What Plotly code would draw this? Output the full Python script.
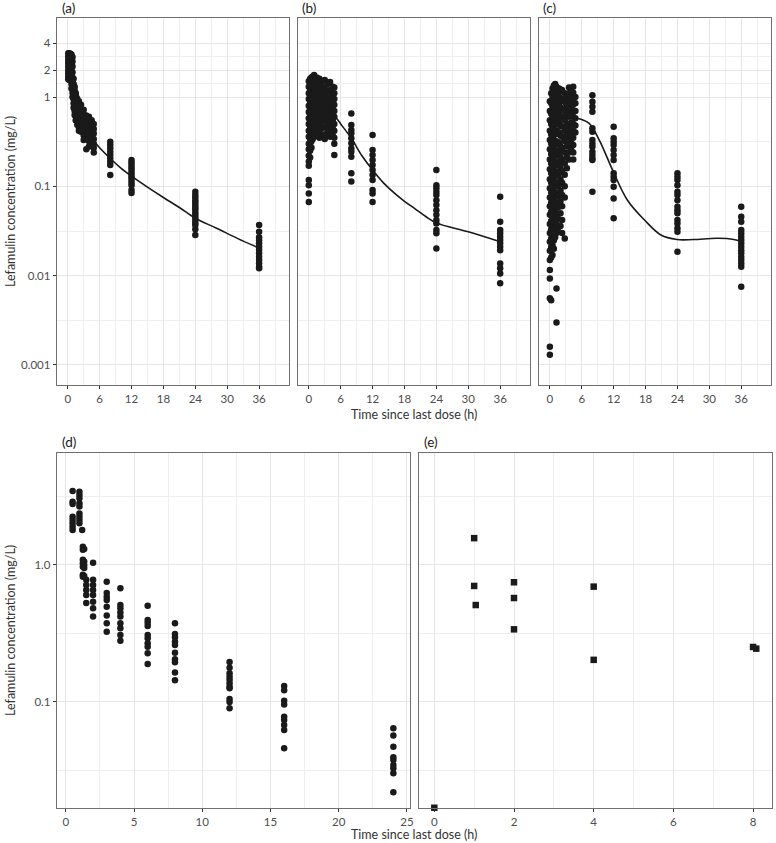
import plotly.graph_objects as go

# ---------------- data ----------------
# Panel (a)
a_times = [0.1, 0.3, 0.5, 0.7, 0.9, 1.1, 1.3, 1.5, 1.8, 2.1, 2.5, 3.0, 3.5, 4.0, 4.5, 4.9, 8, 12, 24, 36]
a_conc = [
    [3.1, 2.85, 2.6, 2.4, 2.2, 2.0, 1.85, 1.7, 1.58],
    [3.1, 2.9, 2.7, 2.5, 2.3, 2.1, 1.95, 1.8, 1.65, 1.55],
    [3.05, 2.8, 2.55, 2.35, 2.15, 1.95, 1.75, 1.6],
    [3.0, 2.75, 2.5, 2.25, 2.0, 1.8, 1.6, 1.4, 1.25],
    [2.8, 2.5, 2.2, 1.9, 1.65, 1.45, 1.28, 1.12, 1.0],
    [1.6, 1.4, 1.22, 1.08, 0.95, 0.85, 0.76],
    [1.3, 1.12, 0.98, 0.87, 0.78, 0.7, 0.63],
    [1.1, 0.96, 0.85, 0.76, 0.68, 0.61, 0.55],
    [0.95, 0.84, 0.75, 0.67, 0.6, 0.54, 0.49],
    [0.9, 0.8, 0.71, 0.64, 0.57, 0.51, 0.46, 0.42],
    [0.82, 0.72, 0.64, 0.57, 0.51, 0.46, 0.41],
    [0.72, 0.64, 0.57, 0.51, 0.46, 0.41, 0.37, 0.33],
    [0.62, 0.55, 0.49, 0.44, 0.39, 0.26],
    [0.6, 0.52, 0.46, 0.41, 0.36, 0.32, 0.28],
    [0.55, 0.48, 0.42, 0.37, 0.33, 0.29],
    [0.5, 0.44, 0.39, 0.34, 0.3, 0.27, 0.24],
    [0.316, 0.29, 0.267, 0.244, 0.224, 0.206, 0.189, 0.173, 0.134],
    [0.197, 0.185, 0.173, 0.163, 0.153, 0.143, 0.134, 0.126, 0.118, 0.11, 0.103, 0.091, 0.084],
    [0.087, 0.08, 0.075, 0.07, 0.066, 0.062, 0.058, 0.055, 0.051, 0.048, 0.045, 0.042, 0.039, 0.037, 0.033, 0.0285],
    [0.0369, 0.031, 0.027, 0.025, 0.023, 0.0211, 0.0195, 0.0178, 0.0163, 0.015, 0.0138, 0.0126, 0.0121],
]
a_line_t = [0.5, 1, 2, 3, 4, 5, 6, 8, 10, 12, 15, 18, 21, 24, 28, 32, 36]
a_line_c = [2.5, 1.9, 1.05, 0.62, 0.42, 0.32, 0.27, 0.205, 0.16, 0.13, 0.098, 0.075, 0.058, 0.044, 0.034, 0.026, 0.0204]

# Panel (b)
b_times = [0, 0.25, 0.5, 0.75, 1, 1.25, 1.5, 1.75, 2, 2.5, 3, 3.5, 4, 4.5, 4.8, 8, 12, 24, 36]
b_conc = [
    [1.5, 1.3, 1.1, 0.95, 0.8, 0.68, 0.58, 0.5, 0.42, 0.36, 0.3, 0.26, 0.22, 0.19, 0.17, 0.118, 0.103, 0.083, 0.067],
    [1.6, 1.4, 1.2, 1.0, 0.88, 0.75, 0.64, 0.55, 0.47, 0.4, 0.34, 0.29, 0.25, 0.21],
    [1.65, 1.45, 1.25, 1.08, 0.92, 0.8, 0.7, 0.6, 0.52, 0.44, 0.38, 0.32, 0.27],
    [1.7, 1.5, 1.3, 1.12, 0.97, 0.85, 0.74, 0.64, 0.55, 0.47, 0.4, 0.34],
    [1.76, 1.55, 1.35, 1.18, 1.02, 0.9, 0.78, 0.67, 0.58, 0.5, 0.43, 0.36],
    [1.6, 1.4, 1.22, 1.05, 0.93, 0.8, 0.7, 0.6, 0.52, 0.45],
    [1.65, 1.45, 1.25, 1.08, 0.95, 0.82, 0.72, 0.62, 0.54, 0.46, 0.38],
    [1.55, 1.35, 1.15, 1.0, 0.87, 0.75, 0.65, 0.55, 0.47],
    [1.6, 1.4, 1.2, 1.05, 0.9, 0.78, 0.68, 0.58, 0.5, 0.42, 0.35],
    [1.5, 1.3, 1.12, 0.97, 0.84, 0.72, 0.62, 0.53, 0.45, 0.38],
    [1.55, 1.25, 1.05, 0.88, 0.76, 0.64, 0.55, 0.46, 0.38, 0.34],
    [1.4, 1.15, 0.95, 0.8, 0.67, 0.57, 0.48, 0.4],
    [1.47, 1.2, 1.0, 0.85, 0.72, 0.6, 0.5, 0.42, 0.36],
    [1.3, 1.1, 0.92, 0.78, 0.65, 0.55, 0.45, 0.37],
    [1.28, 1.1, 0.95, 0.82, 0.7, 0.6, 0.5, 0.42, 0.35, 0.3, 0.224],
    [0.656, 0.486, 0.427, 0.392, 0.345, 0.303, 0.266, 0.244, 0.215, 0.14, 0.113],
    [0.375, 0.255, 0.224, 0.197, 0.173, 0.152, 0.134, 0.118, 0.091, 0.083, 0.067],
    [0.152, 0.103, 0.095, 0.087, 0.08, 0.07, 0.062, 0.054, 0.048, 0.042, 0.0385, 0.0324, 0.0298, 0.0202],
    [0.0765, 0.0402, 0.0324, 0.0298, 0.0273, 0.0251, 0.023, 0.0211, 0.0193, 0.0137, 0.0121, 0.0106, 0.0082],
]
b_line_t = [1, 2, 3, 4, 5, 6, 8, 10, 12, 14, 16, 18, 20, 22, 24, 30, 36]
b_line_c = [0.65, 0.75, 0.76, 0.7, 0.6, 0.5, 0.345, 0.22, 0.152, 0.11, 0.085, 0.068, 0.056, 0.046, 0.039, 0.031, 0.024]

# Panel (c)
c_times = [0, 0.25, 0.5, 0.75, 1.0, 1.25, 1.5, 1.75, 2.0, 2.3, 2.8, 3.2, 3.6, 4.0, 4.4, 4.8, 8, 12, 24, 36]
c_conc = [
    [0.9, 0.7, 0.55, 0.42, 0.33, 0.26, 0.2, 0.155, 0.12, 0.095, 0.075, 0.06, 0.048, 0.038, 0.03, 0.024, 0.019, 0.015, 0.0116, 0.0093, 0.0056, 0.0016, 0.0013],
    [1.1, 0.85, 0.65, 0.5, 0.38, 0.3, 0.23, 0.18, 0.14, 0.11, 0.085, 0.066, 0.052, 0.041, 0.033, 0.026, 0.021, 0.016, 0.0053],
    [1.25, 1.0, 0.78, 0.6, 0.46, 0.36, 0.28, 0.21, 0.165, 0.13, 0.1, 0.078, 0.06, 0.047, 0.037, 0.029, 0.022, 0.017],
    [1.35, 1.1, 0.88, 0.7, 0.55, 0.43, 0.33, 0.25, 0.19, 0.15, 0.115, 0.088, 0.068, 0.053, 0.041, 0.032, 0.025, 0.02],
    [1.4, 1.15, 0.95, 0.77, 0.62, 0.49, 0.38, 0.29, 0.22, 0.17, 0.13, 0.1, 0.076, 0.058, 0.045, 0.035, 0.027],
    [1.3, 1.05, 0.85, 0.68, 0.54, 0.42, 0.32, 0.25, 0.19, 0.145, 0.11, 0.085, 0.065, 0.05, 0.039, 0.03, 0.0072, 0.003],
    [1.2, 0.98, 0.8, 0.64, 0.5, 0.39, 0.3, 0.23, 0.175, 0.135, 0.1, 0.077, 0.058, 0.044, 0.034],
    [1.25, 1.0, 0.82, 0.66, 0.52, 0.4, 0.31, 0.24, 0.18, 0.14, 0.105, 0.08, 0.06],
    [1.15, 0.92, 0.75, 0.6, 0.47, 0.37, 0.28, 0.21, 0.16, 0.12, 0.09, 0.068, 0.05, 0.036],
    [1.2, 0.95, 0.75, 0.6, 0.47, 0.36, 0.27, 0.2, 0.15, 0.11, 0.08, 0.06, 0.042, 0.03],
    [1.1, 0.88, 0.7, 0.55, 0.42, 0.32, 0.24, 0.18, 0.135, 0.1, 0.075, 0.026],
    [1.0, 0.8, 0.62, 0.48, 0.37, 0.28, 0.21, 0.16],
    [1.28, 1.1, 0.95, 0.82, 0.7, 0.6, 0.5, 0.42, 0.35, 0.29, 0.24, 0.2],
    [1.15, 0.98, 0.85, 0.72, 0.62, 0.52, 0.44, 0.37, 0.31, 0.26],
    [1.3, 1.12, 0.96, 0.83, 0.71, 0.6, 0.5, 0.42, 0.35, 0.29, 0.24, 0.2],
    [1.0, 0.85, 0.7, 0.58, 0.48, 0.4],
    [1.05, 0.886, 0.78, 0.685, 0.446, 0.41, 0.33, 0.30, 0.278, 0.244, 0.224, 0.206, 0.197, 0.087],
    [0.465, 0.345, 0.316, 0.29, 0.255, 0.224, 0.197, 0.14, 0.128, 0.118, 0.099, 0.073, 0.044],
    [0.14, 0.128, 0.118, 0.103, 0.087, 0.08, 0.07, 0.059, 0.054, 0.0499, 0.042, 0.0385, 0.0339, 0.031, 0.0185],
    [0.059, 0.0457, 0.0402, 0.0324, 0.0298, 0.0273, 0.0251, 0.023, 0.0211, 0.0193, 0.0178, 0.0163, 0.015, 0.0137, 0.0126, 0.0075],
]
c_line_t = [2, 3, 4, 5, 6, 7.4, 9.3, 11.8, 14.6, 17.8, 20.9, 23.9, 27, 31.5, 34.6, 36]
c_line_c = [0.58, 0.585, 0.585, 0.58, 0.56, 0.507, 0.33, 0.152, 0.07, 0.042, 0.0285, 0.0254, 0.0254, 0.0262, 0.0254, 0.024]

# Panel (d)
d_times = [0.5, 1.0, 1.2, 1.25, 1.35, 1.5, 2, 3, 4, 6, 8, 12, 16, 24]
d_conc = [
    [3.47, 2.90, 2.79, 2.25, 2.13, 2.02, 1.90, 1.80],
    [3.43, 3.24, 3.07, 2.82, 2.67, 2.38, 2.25, 2.13, 2.02],
    [1.80],
    [1.36, 1.29, 1.09, 1.03, 0.97, 0.85, 0.82],
    [1.31, 1.06, 1.0, 0.95, 0.83],
    [0.78, 0.714, 0.657, 0.604, 0.528],
    [1.04, 0.78, 0.714, 0.657, 0.604, 0.54, 0.483, 0.42],
    [0.755, 0.625, 0.587, 0.555, 0.496, 0.427, 0.375, 0.326],
    [0.676, 0.511, 0.483, 0.449, 0.42, 0.375, 0.345, 0.308, 0.28],
    [0.505, 0.397, 0.379, 0.359, 0.308, 0.292, 0.268, 0.253, 0.227, 0.189],
    [0.375, 0.313, 0.297, 0.275, 0.261, 0.229, 0.205, 0.195, 0.164, 0.144],
    [0.196, 0.178, 0.162, 0.153, 0.145, 0.137, 0.129, 0.126, 0.105, 0.1, 0.09],
    [0.131, 0.122, 0.102, 0.096, 0.078, 0.074, 0.068, 0.0625, 0.046],
    [0.0643, 0.0568, 0.0472, 0.0395, 0.0377, 0.0347, 0.0328, 0.0302, 0.0219],
]

# Panel (e)
e_times = [0, 1, 1, 1.04, 2, 2, 2, 4, 4, 8, 8.08]
e_conc = [0.0169, 1.57, 0.703, 0.51, 0.748, 0.574, 0.339, 0.695, 0.203, 0.252, 0.245]

# tick labels
top_y_ticks = [0.001, 0.01, 0.1, 1, 2, 4]
top_y_text = ["0.001", "0.01", "0.1", "1", "2", "4"]
top_y_minor = [0.00316, 0.0316, 0.316, 1.414, 2.83]
top_x_ticks = [0, 6, 12, 18, 24, 30, 36]
top_x_minor = [3, 9, 15, 21, 27, 33, 39]
bot_y_ticks = [0.1, 1.0]
bot_y_text = ["0.1", "1.0"]
bot_y_minor = [0.0316, 0.316, 3.16]
d_x_ticks = [0, 5, 10, 15, 20, 25]
d_x_minor = [2.5, 7.5, 12.5, 17.5, 22.5]
e_x_ticks = [0, 2, 4, 6, 8]
e_x_minor = [1, 3, 5, 7]

panel_labels = ["(a)", "(b)", "(c)", "(d)", "(e)"]
y_title = "Lefamulin concentration (mg/L)"
x_title = "Time since last dose (h)"


def flatten(times, conc):
    xs, ys = [], []
    for t, col in zip(times, conc):
        for v in col:
            xs.append(t)
            ys.append(v)
    return xs, ys


# ---------------- figure ----------------
W, H = 776, 843
FONT = "Lato, 'Open Sans', sans-serif"
INK = "#1a1a1a"


def px_x(p):
    return p / W


def px_y(p):
    return (H - p) / H


fig = go.Figure()

panels = [
    ("x", "y", a_times, a_conc, a_line_t, a_line_c),
    ("x2", "y2", b_times, b_conc, b_line_t, b_line_c),
    ("x3", "y3", c_times, c_conc, c_line_t, c_line_c),
    ("x4", "y4", d_times, d_conc, None, None),
]
for xa, ya, tt, cc, lt, lc in panels:
    xs, ys = flatten(tt, cc)
    fig.add_trace(go.Scatter(x=xs, y=ys, mode="markers", xaxis=xa, yaxis=ya,
                             marker=dict(size=6.5, color=INK, line=dict(width=0)),
                             showlegend=False, hoverinfo="skip"))
    if lt is not None:
        fig.add_trace(go.Scatter(x=lt, y=lc, mode="lines", xaxis=xa, yaxis=ya,
                                 line=dict(color=INK, width=1.6, shape="spline", smoothing=1.0),
                                 showlegend=False, hoverinfo="skip"))

fig.add_trace(go.Scatter(x=e_times, y=e_conc, mode="markers", xaxis="x5", yaxis="y5",
                         marker=dict(size=6.5, color=INK, symbol="square", line=dict(width=0)),
                         showlegend=False, hoverinfo="skip", cliponaxis=False))

GRID = "#e6e6e6"
MINOR = "#efefef"
LINE = "#6f6f6f"
TICKFONT = dict(family=FONT, size=11.5, color="#4d4d4d")


def xaxis(domain, rng, ticks, minor, anchor):
    return dict(domain=domain, range=rng, tickvals=ticks, ticktext=[str(t) for t in ticks],
                showgrid=True, gridcolor=GRID, gridwidth=1.2, zeroline=False,
                showline=True, mirror=True, linecolor=LINE, linewidth=1,
                ticks="outside", ticklen=3, tickcolor="#333333", tickfont=TICKFONT,
                minor=dict(tickvals=minor, showgrid=True, gridcolor=MINOR, gridwidth=0.6, ticks=""),
                anchor=anchor, fixedrange=True)


def yaxis(domain, rng, ticks, text, minor, anchor, labels):
    d = dict(domain=domain, type="log", range=rng, tickvals=ticks, ticktext=text,
             showgrid=True, gridcolor=GRID, gridwidth=1.2, zeroline=False,
             showline=True, mirror=True, linecolor=LINE, linewidth=1,
             tickfont=TICKFONT,
             minor=dict(tickvals=minor, showgrid=True, gridcolor=MINOR, gridwidth=0.6, ticks=""),
             anchor=anchor, fixedrange=True)
    if labels:
        d.update(ticks="outside", ticklen=3, tickcolor="#333333", showticklabels=True)
    else:
        d.update(ticks="", showticklabels=False)
    return d


top_dom = [px_y(385), px_y(18)]
bot_dom = [px_y(808), px_y(453)]
top_xr = [-2.06, 41.6]
top_yr = [-3.224, 0.885]
bot_yr = [-1.774, 0.8175]

fig.update_layout(
    width=W, height=H,
    margin=dict(l=0, r=0, t=0, b=0),
    paper_bgcolor="white", plot_bgcolor="white",
    font=dict(family=FONT, color=INK),
    xaxis=xaxis([px_x(57), px_x(290)], top_xr, top_x_ticks, top_x_minor, "y"),
    xaxis2=xaxis([px_x(299), px_x(532)], top_xr, top_x_ticks, top_x_minor, "y2"),
    xaxis3=xaxis([px_x(541), px_x(774)], top_xr, top_x_ticks, top_x_minor, "y3"),
    xaxis4=xaxis([px_x(57), px_x(412)], [-0.66, 25.25], d_x_ticks, d_x_minor, "y4"),
    xaxis5=xaxis([px_x(421), px_x(775)], [-0.375, 8.475], e_x_ticks, e_x_minor, "y5"),
    yaxis=yaxis(top_dom, top_yr, top_y_ticks, top_y_text, top_y_minor, "x", True),
    yaxis2=yaxis(top_dom, top_yr, top_y_ticks, top_y_text, top_y_minor, "x2", False),
    yaxis3=yaxis(top_dom, top_yr, top_y_ticks, top_y_text, top_y_minor, "x3", False),
    yaxis4=yaxis(bot_dom, bot_yr, bot_y_ticks, bot_y_text, bot_y_minor, "x4", True),
    yaxis5=yaxis(bot_dom, bot_yr, bot_y_ticks, bot_y_text, bot_y_minor, "x5", False),
)

# panel labels
label_pos = [(60, 8), (301, 8), (543, 8), (60, 442), (424, 442)]
for lab, (lx, ly) in zip(panel_labels, label_pos):
    fig.add_annotation(text=lab, x=px_x(lx), y=px_y(ly), xref="paper", yref="paper",
                       xanchor="left", yanchor="middle", showarrow=False,
                       font=dict(family=FONT, size=13.5, color=INK))

# axis titles
for cy in (201, 630):
    fig.add_annotation(text=y_title, x=px_x(10), y=px_y(cy), xref="paper", yref="paper",
                       textangle=-90, xanchor="center", yanchor="middle", showarrow=False,
                       font=dict(family=FONT, size=12.5, color="#333333"))
for cy in (414, 834):
    fig.add_annotation(text=x_title, x=px_x(416), y=px_y(cy), xref="paper", yref="paper",
                       xanchor="center", yanchor="middle", showarrow=False,
                       font=dict(family=FONT, size=12.5, color="#333333"))

fig.write_html("out.html", config={"displayModeBar": False},
               post_script="document.body.style.margin='0';document.body.style.overflow='hidden';")
